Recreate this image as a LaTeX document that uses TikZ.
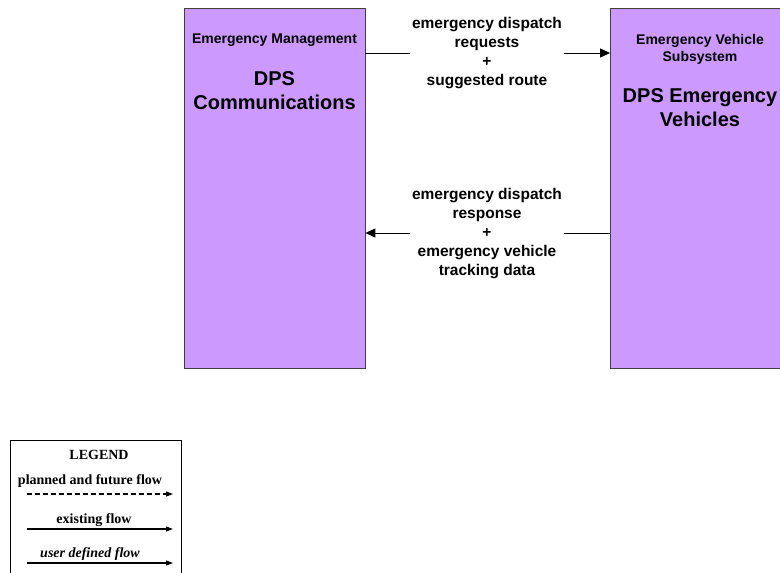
\documentclass[tikz,border=0pt]{standalone}
\usepackage{fontspec}
\setmainfont{Liberation Serif}
\newfontfamily\arialf{Liberation Sans}
\usetikzlibrary{arrows.meta}
\definecolor{boxfill}{HTML}{CC99FF}
\definecolor{boxline}{HTML}{404040}
\begin{document}
\begin{tikzpicture}[x=1pt,y=-1pt,
  sysbox/.style={draw=boxline,line width=0.8pt,fill=boxfill,minimum width=181pt,minimum height=360pt,inner sep=0pt},
  smalltitle/.style={font=\arialf\bfseries\fontsize{14}{17}\selectfont,align=center,inner sep=0pt},
  bigtitle/.style={font=\arialf\bfseries\fontsize{20}{24}\selectfont,align=center,inner sep=0pt},
  flowlabel/.style={font=\arialf\bfseries\fontsize{15.5}{19}\selectfont,align=center,fill=white,inner sep=2pt},
  flow/.style={line width=1pt,-{Triangle[length=10pt,width=9pt]}},
  legtext/.style={font=\bfseries\fontsize{14}{17}\selectfont,inner sep=0pt},
  legarrow/.style={line width=1.1pt,-{Triangle[length=7pt,width=5pt]}}]
\clip (0,0) rectangle (780,573);
\fill[white] (0,0) rectangle (780,573);
% system boxes
\node[sysbox] (dps) at (274.5,188) {};
\node[sysbox] (ev) at (701,188) {};
\node[smalltitle] (dpssub) at (274.5,40.5) {Emergency Management};
\node[bigtitle] (dpsname) at (274.5,90.5) {DPS\\Communications};
\node[smalltitle] (evsub) at (700,49) {Emergency Vehicle\\Subsystem};
\node[bigtitle] (evname) at (700,107.5) {DPS Emergency\\Vehicles};
% flows
\draw[flow] (dps.east |- 0,53) -- (ev.west |- 0,53);
\draw[flow] (ev.west |- 0,233) -- (dps.east |- 0,233);
\node[flowlabel] (f1) at (487,53.5) {emergency dispatch\\requests\\+\\suggested route};
\node[flowlabel] (f2) at (487,234) {emergency dispatch\\response\\+\\emergency vehicle\\tracking data};
% legend
\node[draw=black,line width=0.9pt,minimum width=171pt,minimum height=150pt,inner sep=0pt,anchor=north west] (legend) at (10,440) {};
\node[legtext] (legtitle) at (99,455) {LEGEND};
\node[legtext] (l1) at (90,481) {planned and future flow};
\node[legtext] (l2) at (94,520) {existing flow};
\node[legtext,font=\bfseries\itshape\fontsize{14}{17}\selectfont] (l3) at (90,554) {user defined flow};
\coordinate (a1s) at (27,494); \coordinate (a1e) at (173,494);
\coordinate (a2s) at (27,529); \coordinate (a2e) at (173,529);
\coordinate (a3s) at (27,563); \coordinate (a3e) at (173,563);
\draw[legarrow,dash pattern=on 5pt off 3pt] (a1s) -- (a1e);
\draw[legarrow] (a2s) -- (a2e);
\draw[legarrow] (a3s) -- (a3e);
\end{tikzpicture}
\end{document}
